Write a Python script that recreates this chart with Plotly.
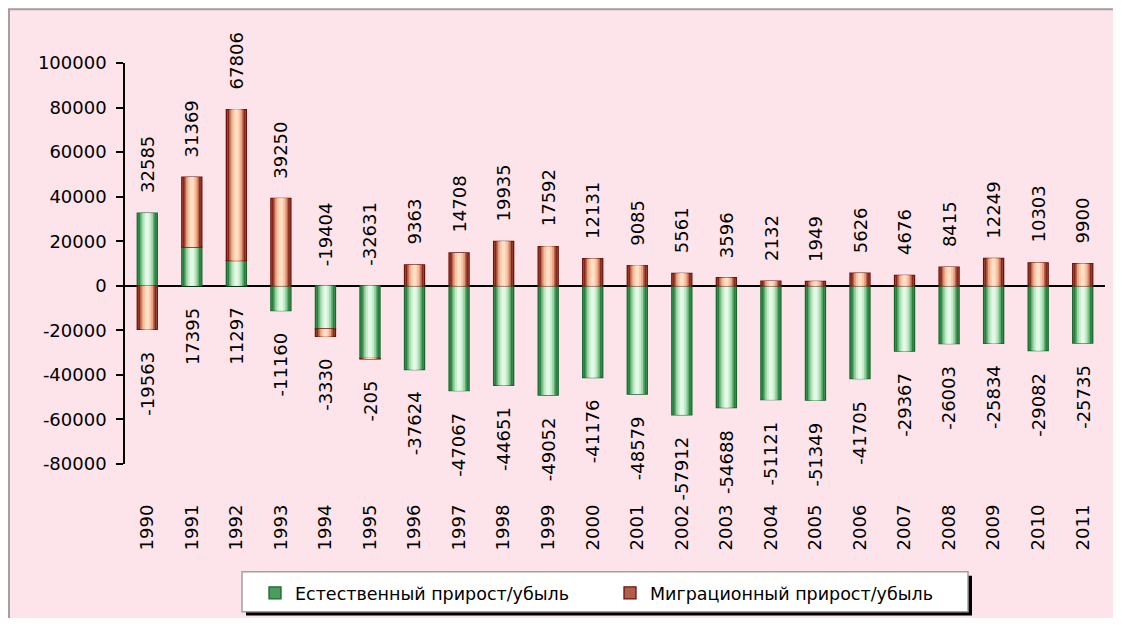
import plotly.graph_objects as go

years = [str(y) for y in range(1990, 2012)]
natural = [32585, 17395, 11297, -11160, -19404, -32631, -37624, -47067, -44651, -49052,
           -41176, -48579, -57912, -54688, -51121, -51349, -41705, -29367, -26003, -25834,
           -29082, -25735]
migration = [-19563, 31369, 67806, 39250, -3330, -205, 9363, 14708, 19935, 17592,
             12131, 9085, 5561, 3596, 2132, 1949, 5626, 4676, 8415, 12249, 10303, 9900]
series_names = ["Естественный прирост/убыль", "Миграционный прирост/убыль"]
y_tickvals = [100000, 80000, 60000, 40000, 20000, 0, -20000, -40000, -60000, -80000]
y_ticktext = [str(v) for v in y_tickvals]

FONT = "DejaVu Sans"
BG = "#fde4ea"

# relative stacking: migration sits on top of natural when same sign
nat_base = [0] * len(natural)
mig_base = [n if (n >= 0) == (m >= 0) else 0 for n, m in zip(natural, migration)]

# (width, fill, outline) layers emulating the cylinder-like gradient
green_layers = [(0.45, "#4c9c5e", "#1a6630"), (0.40, "#2a7f40", None), (0.33, "#5eae6f", None),
                (0.26, "#9ad3a5", None), (0.18, "#c6ebcc", None), (0.09, "#e4f8e6", None)]
brown_layers = [(0.45, "#b0604a", "#6a130d"), (0.40, "#84261a", None), (0.33, "#b8654b", None),
                (0.26, "#e6a383", None), (0.18, "#f9c6a4", None), (0.09, "#ffdfc6", None)]

fig = go.Figure()

def add_series(vals, bases, layers, name):
    for i, (w, col, line) in enumerate(layers):
        fig.add_trace(go.Bar(
            x=years, y=vals, base=bases, width=w, name=name,
            marker=dict(color=col, line=dict(color=line or col, width=1.3 if line else 0)),
            showlegend=(i == 0), hoverinfo="skip" if i else None,
        ))

add_series(natural, nat_base, green_layers, series_names[0])
add_series(migration, mig_base, brown_layers, series_names[1])

# data labels (x given as category index)
annotations = []
for i, (n, m) in enumerate(zip(natural, migration)):
    top_val, bot_val = (m, n) if m > 0 else (n, m)
    pos = sum(v for v in (n, m) if v > 0)
    neg = sum(v for v in (n, m) if v < 0)
    annotations.append(dict(x=i, y=pos, text=str(top_val), textangle=-90, showarrow=False,
                            yanchor="bottom", xanchor="center", yshift=18,
                            font=dict(family=FONT, size=18, color="black")))
    annotations.append(dict(x=i, y=neg, text=str(bot_val), textangle=-90, showarrow=False,
                            yanchor="top", xanchor="center", yshift=-20,
                            font=dict(family=FONT, size=18, color="black")))

# page has an 8px body margin; figure sized to fit inside 1121x626 viewport
W, H = 1105, 610
L, R, T, B = 117, 8, 55, 153

def px_x(p):  # absolute screen px -> paper
    return (p - 125) / 980

def px_y(p):
    return (465 - p) / 402

shapes = [
    dict(type="rect", xref="paper", yref="paper", x0=px_x(9), x1=px_x(1300), y0=px_y(900), y1=px_y(9),
         line=dict(color="#a3a0a0", width=2), fillcolor="rgba(0,0,0,0)", layer="below"),
    dict(type="rect", xref="paper", yref="paper", x0=px_x(246), x1=px_x(972), y0=px_y(617), y1=px_y(577),
         line=dict(width=0), fillcolor="black", layer="above"),
    dict(type="rect", xref="paper", yref="paper", x0=px_x(242), x1=px_x(968), y0=px_y(613), y1=px_y(573),
         line=dict(color="#a0a0a0", width=1.5), fillcolor="white", layer="above"),
]

fig.update_layout(
    width=W, height=H,
    margin=dict(l=L, r=R, t=T, b=B),
    paper_bgcolor=BG, plot_bgcolor=BG,
    barmode="overlay",
    font=dict(family=FONT, size=18, color="black"),
    showlegend=True,
    legend=dict(orientation="h", x=px_x(255), xanchor="left", y=px_y(593), yanchor="middle",
                bgcolor="rgba(0,0,0,0)", borderwidth=0, entrywidth=310,
                font=dict(family=FONT, size=17.5, color="black")),
    annotations=annotations,
    shapes=shapes,
    xaxis=dict(type="category", range=[-0.5, len(years) - 0.5], showline=False, ticks="",
               tickangle=-90, showgrid=False, ticklabelstandoff=36, tickfont=dict(family=FONT, size=18)),
    yaxis=dict(range=[-80000, 100000], tickvals=y_tickvals, ticktext=y_ticktext,
               showline=True, linecolor="black", linewidth=1.5, ticks="outside", ticklen=7,
               tickcolor="black", tickwidth=1.5, showgrid=False, zeroline=True,
               zerolinecolor="black", zerolinewidth=1.5, ticklabelstandoff=6,
               tickfont=dict(family=FONT, size=18)),
)

fig.write_html("out.html")
